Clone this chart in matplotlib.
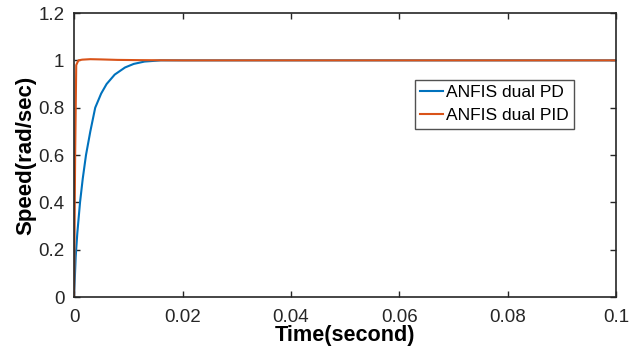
import matplotlib.pyplot as plt

# step response
t_pd = [0, 0.0003, 0.0006, 0.0011, 0.0016, 0.0022, 0.003, 0.0039, 0.005,
        0.006, 0.0075, 0.0094, 0.011, 0.013, 0.016, 0.02, 0.1]
speed_pd = [0, 0.17, 0.27, 0.4, 0.5, 0.6, 0.7, 0.8, 0.86,
            0.9, 0.94, 0.97, 0.985, 0.995, 1.0, 1.0, 1.0]

t_pid = [0, 0.0001, 0.0002, 0.0004, 0.0008, 0.0015, 0.003, 0.005, 0.008,
         0.012, 0.02, 0.1]
speed_pid = [0, 0.3, 0.6, 0.98, 1.0, 1.003, 1.005, 1.004, 1.002,
             1.001, 1.0, 1.0]

labels = ['ANFIS dual PD', 'ANFIS dual PID']
colors = ['#0072BD', '#D95319']

plt.rcParams['font.family'] = ['Liberation Sans', 'DejaVu Sans']

fig = plt.figure(figsize=(6.44, 3.52), dpi=100)
ax = fig.add_axes([0.115, 0.156, 0.842, 0.807])

ax.plot(t_pd, speed_pd, color=colors[0], lw=1.5, label=labels[0])
ax.plot(t_pid, speed_pid, color=colors[1], lw=1.5, label=labels[1])

ax.set_xlim(0, 0.1)
ax.set_ylim(0, 1.2)
ax.set_xticks([0, 0.02, 0.04, 0.06, 0.08, 0.1])
ax.set_xticklabels(['0', '0.02', '0.04', '0.06', '0.08', '0.1'])
ax.set_yticks([0, 0.2, 0.4, 0.6, 0.8, 1, 1.2])
ax.set_yticklabels(['0', '0.2', '0.4', '0.6', '0.8', '1', '1.2'])
ax.tick_params(direction='in', top=True, right=True, labelsize=13.5,
               colors='#262626', length=4, width=1)
ax.tick_params(axis='x', pad=8.5)
ax.tick_params(axis='y', pad=7)
for s in ax.spines.values():
    s.set_color('#262626')
    s.set_linewidth(1.2)

ax.set_xlabel('Time(second)', fontsize=15.6, fontweight='bold', labelpad=-1)
ax.set_ylabel('Speed(rad/sec)', fontsize=16, fontweight='bold', labelpad=1)

leg = ax.legend(loc='upper left', bbox_to_anchor=(0.629, 0.764), fontsize=12.5,
                frameon=True, fancybox=False, handlelength=1.3,
                handletextpad=0.2, borderpad=0.3, labelspacing=0.45,
                borderaxespad=0)
leg.get_frame().set_edgecolor('#262626')
leg.get_frame().set_linewidth(1)

fig.savefig('out.png', dpi=100)
